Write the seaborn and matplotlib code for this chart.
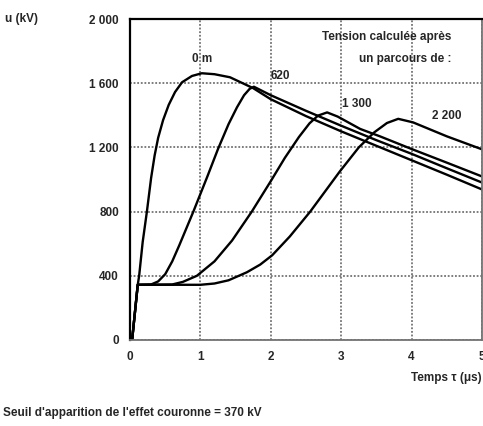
import numpy as np
import pandas as pd
import matplotlib
matplotlib.use("Agg")
import matplotlib.pyplot as plt
from matplotlib.ticker import MultipleLocator, FixedLocator
import seaborn as sns

# ---- data ----
t_0m = [0.03, 0.11, 0.13, 0.18, 0.24, 0.30, 0.35, 0.40, 0.47, 0.55, 0.64, 0.74, 0.88, 1.02,
        1.20, 1.42, 1.60, 1.75, 2.0, 2.5, 3.0, 3.5, 4.0, 4.5, 5.0]
u_0m = [0, 344, 400, 610, 800, 1010, 1150, 1260, 1370, 1465, 1545, 1606, 1645, 1662,
        1656, 1637, 1600, 1569, 1500, 1395, 1300, 1210, 1120, 1030, 938]

t_620 = [0.03, 0.11, 0.30, 0.40, 0.50, 0.60, 0.70, 0.90, 1.10, 1.25, 1.40, 1.52, 1.62, 1.70, 1.76,
         2.0, 2.5, 3.0, 3.5, 4.0, 4.5, 5.0]
u_620 = [0, 344, 346, 365, 410, 490, 590, 800, 1020, 1190, 1345, 1450, 1525, 1565, 1578,
         1525, 1428, 1335, 1245, 1160, 1070, 981]

t_1300 = [0.03, 0.11, 0.60, 0.75, 0.95, 1.20, 1.45, 1.73, 2.00, 2.20, 2.40, 2.55, 2.67, 2.80,
          2.95, 3.27, 3.55, 4.0, 4.5, 5.0]
u_1300 = [0, 344, 346, 362, 400, 490, 620, 800, 990, 1135, 1265, 1350, 1398, 1418,
          1392, 1315, 1269, 1190, 1105, 1019]

t_2200 = [0.03, 0.11, 1.00, 1.20, 1.40, 1.66, 1.85, 2.02, 2.27, 2.56, 2.98, 3.25, 3.47, 3.65,
          3.81, 4.02, 4.50, 5.00]
u_2200 = [0, 344, 344, 352, 372, 422, 470, 528, 645, 800, 1050, 1200, 1294, 1352,
          1378, 1356, 1269, 1188]

labels = ["0 m", "620", "1 300", "2 200"]
label_pos = [(1.02, 1750), (2.13, 1644), (3.22, 1469), (4.5, 1394)]

x_ticks = [0, 1, 2, 3, 4, 5]
y_ticks = [0, 400, 800, 1200, 1600, 2000]
y_tick_labels = ["0", "400", "800", "1 200", "1 600", "2 000"]

# ---- build long table ----
frames = []
for name, t, u in zip(labels, [t_0m, t_620, t_1300, t_2200], [u_0m, u_620, u_1300, u_2200]):
    frames.append(pd.DataFrame({"t": t, "u": u, "course": name}))
df = pd.concat(frames, ignore_index=True)

sns.set_style("white")
plt.rcParams["font.family"] = ["Liberation Sans", "DejaVu Sans"]
plt.rcParams["font.weight"] = "bold"

W, H = 483, 426
fig = plt.figure(figsize=(W / 100, H / 100), dpi=100)
ax = fig.add_axes([130 / W, 1 - 340 / H, 352 / W, 321 / H])

sns.lineplot(data=df, x="t", y="u", hue="course", palette=["black"] * 4,
             sort=False, estimator=None, linewidth=1.7, legend=False, ax=ax)
for line in ax.get_lines():
    line.set_solid_joinstyle("round")

ax.set_xlim(0, 5)
ax.set_ylim(0, 2000)
ax.xaxis.set_major_locator(FixedLocator(x_ticks))
ax.yaxis.set_major_locator(FixedLocator(y_ticks))
ax.set_xticklabels([str(v) for v in x_ticks])
ax.set_yticklabels(y_tick_labels)
ax.xaxis.set_minor_locator(MultipleLocator(0.5))
ax.yaxis.set_minor_locator(MultipleLocator(200))

ax.grid(True, which="major", color="0.45", linestyle=(0, (1, 1)), linewidth=1.3)
ax.set_axisbelow(True)
for side in ["left", "top"]:
    ax.spines[side].set_color("black")
    ax.spines[side].set_linewidth(1.6)
for side in ["right", "bottom"]:
    ax.spines[side].set_color("0.45")
    ax.spines[side].set_linestyle((0, (1, 1)))
    ax.spines[side].set_linewidth(1.3)

ax.tick_params(axis="both", which="major", direction="out", length=5, width=1.2,
               color="black", labelsize=8.5, pad=3)
ax.tick_params(axis="x", which="major", length=0, pad=8)
ax.tick_params(axis="both", which="minor", direction="in", length=4, width=1, color="0.35")
for lab in ax.get_xticklabels() + ax.get_yticklabels():
    lab.set_fontweight("bold")

ax.set_xlabel("")
ax.set_ylabel("")

for name, (x, y) in zip(labels, label_pos):
    ax.text(x, y, name, ha="center", va="center", fontsize=8.5, fontweight="bold")

ax.text(4.56, 1887, "Tension calculée après", ha="right", va="center",
        fontsize=8.5, fontweight="bold")
ax.text(4.56, 1750, "un parcours de :", ha="right", va="center",
        fontsize=8.5, fontweight="bold")

fig.text(5 / W, 1 - 19 / H, "u (kV)", ha="left", va="center", fontsize=8.5, fontweight="bold")
fig.text(482 / W, 1 - 378 / H, "Temps τ (μs)", ha="right", va="center",
         fontsize=8.5, fontweight="bold")
fig.text(3 / W, 1 - 413 / H, "Seuil d'apparition de l'effet couronne = 370 kV",
         ha="left", va="center", fontsize=8.5, fontweight="bold")

fig.savefig("out.png", dpi=100, facecolor="white")
